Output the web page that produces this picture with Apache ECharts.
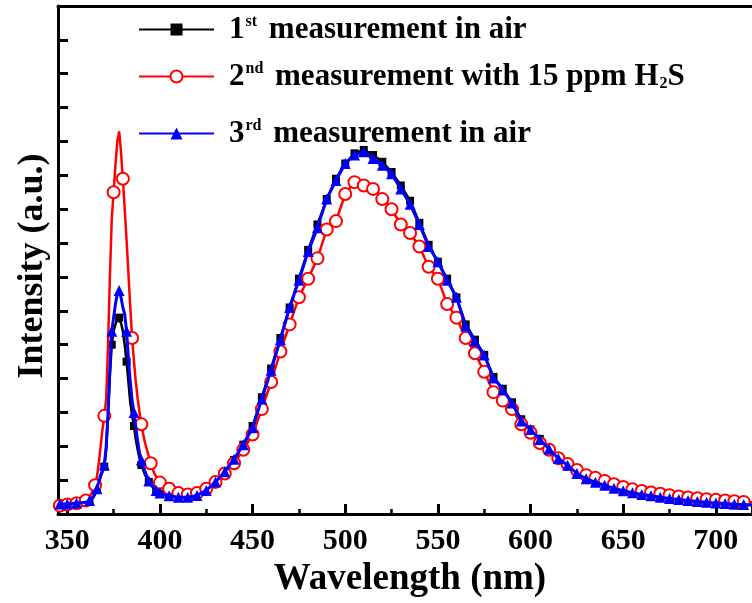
<!DOCTYPE html>
<html>
<head>
<meta charset="utf-8">
<script src="https://cdn.jsdelivr.net/npm/echarts@6/dist/echarts.min.js"></script>
<style>html,body{margin:0;padding:0;background:#fff}#c{width:752px;height:603px}</style>
</head>
<body>
<div id="c"></div>
<script>
// Wavelength (nm)
const wavelengths = [346, 350, 355,
  360,361,362,363,364,365,366,367,368,369,370,
  371,372,373,374,375,376,377,378,379,380,
  381,382,383,384,385,386,387,388,389,390,
  391,392,393,394,395,396,397,398,399,400,
  405,410,415,420,425,430,435,440,445,450,455,460,465,470,
  475,480,485,490,495,500,505,510,515,520,
  525,530,535,540,545,550,555,560,565,570,
  575,580,585,590,595,600,605,610,615,620,
  625,630,635,640,645,650,655,660,665,670,
  675,680,685,690,695,700,705,710,715,720];

const firstAir = [0.3, 0.3, 0.33,
  0.36,0.38,0.4,0.45,0.5,0.6,0.72,0.9,1.1,1.25,1.4,
  1.9,2.9,4.1,5.0,5.4,5.6,5.75,5.8,5.65,5.4,
  5.0,4.5,3.9,3.3,2.9,2.6,2.2,1.9,1.65,1.45,
  1.3,1.15,1.05,0.95,0.87,0.8,0.74,0.68,0.64,0.6,
  0.53,0.5,0.5,0.55,0.72,0.95,1.25,1.6,2.05,2.6,3.45,4.3,5.2,6.1,
  6.95,7.8,8.55,9.3,9.9,10.35,10.65,10.75,10.6,10.4,
  10.1,9.7,9.25,8.6,7.95,7.45,6.95,6.4,5.6,5.15,
  4.7,4.05,3.7,3.3,2.8,2.5,2.22,1.95,1.66,1.45,
  1.22,1.07,0.95,0.85,0.76,0.69,0.63,0.58,0.54,0.5,
  0.46,0.43,0.4,0.38,0.35,0.33,0.31,0.3,0.28,0.27];

const secondH2S = [0.25, 0.28, 0.32,
  0.4,0.45,0.5,0.6,0.7,0.85,1.1,1.5,2.0,2.5,2.9,
  3.4,5.0,7.0,8.7,9.5,10.3,11.0,11.3,10.7,9.9,
  9.0,8.1,7.1,6.1,5.2,4.5,3.9,3.4,3.0,2.65,
  2.35,2.1,1.9,1.7,1.5,1.35,1.2,1.1,1.0,0.93,
  0.75,0.62,0.58,0.62,0.75,0.95,1.2,1.5,1.9,2.35,3.1,3.9,4.8,5.6,
  6.4,6.95,7.55,8.4,8.65,9.45,9.8,9.7,9.6,9.3,
  9.0,8.55,8.3,7.9,7.3,6.95,6.2,5.8,5.2,4.75,
  4.2,3.6,3.35,3.1,2.65,2.4,2.1,1.9,1.65,1.48,
  1.3,1.15,1.07,0.98,0.88,0.8,0.73,0.68,0.64,0.6,
  0.56,0.52,0.49,0.47,0.44,0.42,0.4,0.38,0.36,0.35];

const thirdAir = [0.3, 0.3, 0.33,
  0.35,0.37,0.4,0.45,0.5,0.6,0.75,0.95,1.15,1.3,1.45,
  2.0,3.0,4.3,5.4,5.8,6.2,6.5,6.6,6.4,6.1,
  5.9,5.4,4.6,3.9,3.35,3.0,2.55,2.15,1.8,1.6,
  1.4,1.25,1.1,0.98,0.9,0.82,0.76,0.7,0.66,0.62,
  0.54,0.5,0.5,0.55,0.7,0.95,1.25,1.62,2.05,2.55,3.4,4.25,5.15,6.1,
  6.9,7.75,8.45,9.3,9.85,10.35,10.6,10.7,10.5,10.3,
  10.05,9.6,9.15,8.55,7.9,7.45,6.9,6.4,5.55,5.1,
  4.7,4.02,3.68,3.28,2.75,2.5,2.2,1.92,1.64,1.44,
  1.2,1.04,0.94,0.85,0.76,0.69,0.63,0.58,0.54,0.5,
  0.46,0.43,0.4,0.37,0.35,0.33,0.31,0.29,0.28,0.27];

const seriesNames = ['1st measurement in air', '2nd measurement with 15 ppm H2S', '3rd measurement in air'];
const xTitle = 'Wavelength (nm)';
const yTitle = 'Intensity (a.u.)';

const FONT = '"Liberation Serif", "Times New Roman", serif';
function pairs(arr) { return wavelengths.map((w, i) => [w, arr[i]]); }

// marker thinning rules (style only)
function sizeBlueBlack(base) {
  return function (v) {
    const w = v[0];
    if (w < 360 || w >= 400) return base;
    return (w % 4 === 2) ? base : 0;
  };
}
function sizeRed(base) {
  return function (v) {
    const w = v[0];
    if (w >= 400) return base;
    return (w % 5 === 0 || w === 346) ? base : 0;
  };
}

const LF = 31;
const rich = {
  n: {fontSize: LF, fontWeight: 'bold', fontFamily: FONT, color: '#000'},
  m: {fontSize: LF, fontWeight: 'bold', fontFamily: FONT, color: '#000', padding: [0, 0, 0, 4]},
  t: {fontSize: LF, fontWeight: 'bold', fontFamily: FONT, color: '#000'},
  sup: {fontSize: 16, fontWeight: 'bold', fontFamily: FONT, color: '#000', verticalAlign: 'top', padding: [0, 0, 10, 1]},
  sub: {fontSize: 16, fontWeight: 'bold', fontFamily: FONT, color: '#000', verticalAlign: 'bottom', padding: [10, 0, 0, 1]}
};
const legendLabels = {};
legendLabels[seriesNames[0]] = '{n|1}{sup|st}{m| measurement in air}';
legendLabels[seriesNames[1]] = '{n|2}{sup|nd}{m| measurement with 15 ppm H}{sub|2}{t|S}';
legendLabels[seriesNames[2]] = '{n|3}{sup|rd}{m| measurement in air}';

function legendAt(name, top) {
  return {
    data: [name], left: 138, top: top, orient: 'horizontal',
    itemWidth: 75, itemHeight: 15, padding: 0,
    formatter: (n) => legendLabels[n],
    textStyle: {rich: rich, padding: [0, 0, 0, 10]},
    selectedMode: false
  };
}

const X_MIN = 345, X_MAX = 719.5;

const chart = echarts.init(document.getElementById('c'), null, {renderer: 'canvas'});
chart.setOption({
  animation: false,
  backgroundColor: '#fff',
  grid: {left: 58, top: 6, right: 0, bottom: 83},
  legend: [legendAt(seriesNames[0], 14), legendAt(seriesNames[1], 61), legendAt(seriesNames[2], 118)],
  xAxis: [{
    type: 'value', min: X_MIN, max: X_MAX, splitNumber: 8,
    name: xTitle, nameLocation: 'middle', nameGap: 44,
    nameTextStyle: {fontFamily: FONT, fontWeight: 'bold', fontSize: 37, color: '#000', padding: [0, 0, 0, 10]},
    axisLine: {show: true, lineStyle: {color: '#000', width: 3}},
    axisTick: {show: true, inside: true, length: 10, lineStyle: {width: 3, color: '#000'}},
    minorTick: {show: true, splitNumber: 2, length: 5, lineStyle: {width: 2.5, color: '#000'}},
    axisLabel: {fontFamily: FONT, fontWeight: 'bold', fontSize: 30, color: '#000', margin: 12, showMinLabel: false, showMaxLabel: false},
    splitLine: {show: false}
  }, {
    type: 'value', position: 'top', min: X_MIN, max: X_MAX,
    axisLine: {show: true, lineStyle: {color: '#000', width: 3}},
    axisTick: {show: false}, axisLabel: {show: false}, splitLine: {show: false}
  }],
  yAxis: {
    type: 'value', min: 0, max: 15, interval: 1,
    name: yTitle, nameLocation: 'middle', nameGap: 7,
    nameTextStyle: {fontFamily: FONT, fontWeight: 'bold', fontSize: 36, color: '#000', padding: [0, 12, 0, 0]},
    axisLine: {show: true, lineStyle: {color: '#000', width: 3}},
    axisTick: {show: true, inside: true, length: 10, lineStyle: {width: 3, color: '#000'}},
    axisLabel: {show: false},
    splitLine: {show: false}
  },
  series: [
    {name: seriesNames[0], type: 'line', data: pairs(firstAir), symbol: 'rect', symbolSize: sizeBlueBlack(8), showAllSymbol: true,
     lineStyle: {color: '#000', width: 2.5}, itemStyle: {color: '#000'}, z: 2},
    {name: seriesNames[1], type: 'line', data: pairs(secondH2S), symbol: 'emptyCircle', symbolSize: sizeRed(12), showAllSymbol: true,
     lineStyle: {color: '#ff0000', width: 2.5}, itemStyle: {color: '#ff0000', borderWidth: 1.5}, z: 3},
    {name: seriesNames[2], type: 'line', data: pairs(thirdAir), symbol: 'triangle', symbolSize: sizeBlueBlack(11), showAllSymbol: true,
     lineStyle: {color: '#0000ff', width: 3}, itemStyle: {color: '#0000ff'}, z: 4}
  ]
});
</script>
</body>
</html>
